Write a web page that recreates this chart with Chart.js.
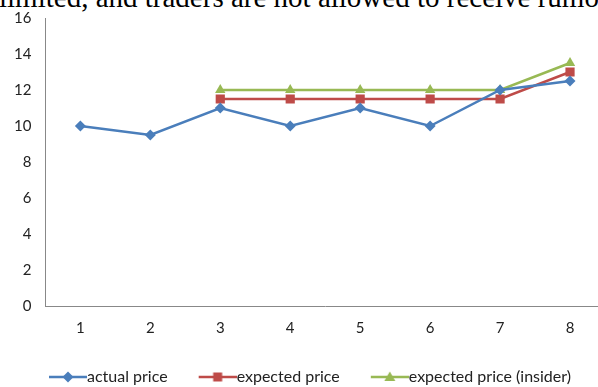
<!DOCTYPE html>
<html lang="en">
<head>
<meta charset="UTF-8">
<title>Price chart</title>
<script src="https://cdn.jsdelivr.net/npm/chart.js"></script>
<style>
  html, body { margin: 0; padding: 0; background: #fff; overflow: hidden; }
  body { width: 598px; height: 387px; position: relative; }
  .caption {
    position: absolute; left: -1px; top: -17px; white-space: nowrap; line-height: 29px;
    font-family: "Liberation Serif", "Times New Roman", serif; font-size: 29px; color: #000;
  }
  .wrap { position: absolute; left: 0; top: 0; width: 624px; height: 387px; }
</style>
</head>
<body>
<div class="caption">limited, and traders are not allowed to receive rumors</div>
<div class="wrap"><canvas id="myChart"></canvas></div>
<script>
const periods = ["1", "2", "3", "4", "5", "6", "7", "8"];
const actualPrice = [10, 9.5, 11, 10, 11, 10, 12, 12.5];
const expectedPrice = [null, null, 11.5, 11.5, 11.5, 11.5, 11.5, 13];
const insiderPrice = [null, null, 12, 12, 12, 12, 12, 13.5];
const yMin = 0, yMax = 16, yStep = 2;

const BLUE = "#4a7ebb", RED = "#be4b48", GREEN = "#98b954";
const FONT = "Lato, Carlito, Calibri, sans-serif";

// line-with-marker swatch for the legend; the blank left part spaces the items
function swatch(color, shape) {
    const c = document.createElement("canvas");
    c.width = 61; c.height = 14;
    const g = c.getContext("2d");
    const x0 = 23, cx = 42;
    g.strokeStyle = color; g.lineWidth = 2.5;
    g.beginPath(); g.moveTo(x0, 7); g.lineTo(61, 7); g.stroke();
    g.fillStyle = color;
    g.beginPath();
    if (shape === "diamond") {
        g.moveTo(cx, 1.5); g.lineTo(cx + 5.5, 7); g.lineTo(cx, 12.5); g.lineTo(cx - 5.5, 7);
    } else if (shape === "square") {
        g.rect(cx - 4.5, 2.5, 9, 9);
    } else {
        g.moveTo(cx, 1.5); g.lineTo(cx + 5.5, 11); g.lineTo(cx - 5.5, 11);
    }
    g.closePath(); g.fill();
    return c;
}

const icons = [swatch(BLUE, "diamond"), swatch(RED, "square"), swatch(GREEN, "triangle")];

function series(label, data, color, style, radius) {
    return {
        label: label,
        data: data,
        borderColor: color,
        backgroundColor: color,
        borderWidth: 2.5,
        pointStyle: style,
        pointRadius: radius,
        pointHoverRadius: radius,
        pointBorderWidth: 0,
        tension: 0,
        spanGaps: false
    };
}

const ctx = document.getElementById("myChart").getContext("2d");
const myChart = new Chart(ctx, {
    type: "line",
    data: {
        labels: periods,
        datasets: [
            series("actual price", actualPrice, BLUE, "rectRot", 5.5),
            series("expected price", expectedPrice, RED, "rect", 6.5),
            series("expected price (insider)", insiderPrice, GREEN, "triangle", 6)
        ]
    },
    options: {
        responsive: true,
        maintainAspectRatio: false,
        animation: false,
        layout: { padding: { left: 0, right: 19, top: 18, bottom: -8 } },
        plugins: {
            tooltip: { enabled: false },
            legend: {
                position: "bottom",
                labels: {
                    usePointStyle: true,
                    pointStyleWidth: 45,
                    padding: 16,
                    color: "#222",
                    font: { family: FONT, size: 16 },
                    generateLabels: chart => chart.data.datasets.map((ds, i) => ({
                        text: ds.label,
                        pointStyle: icons[i],
                        fillStyle: ds.borderColor,
                        strokeStyle: ds.borderColor,
                        lineWidth: 0,
                        datasetIndex: i,
                        fontColor: "#222"
                    }))
                }
            }
        },
        scales: {
            x: {
                offset: true,
                grid: { display: false, drawTicks: false },
                border: { display: true, color: "#888", width: 1 },
                ticks: { color: "#222", font: { family: FONT, size: 15 }, padding: 13 },
                afterFit: scale => { scale.height = 47; }
            },
            y: {
                min: yMin,
                max: yMax,
                grid: { display: false, drawTicks: false },
                border: { display: true, color: "#888", width: 1 },
                ticks: { stepSize: yStep, color: "#222", font: { family: FONT, size: 15 }, padding: 14 },
                // the top label only needs half its height above the plot
                afterFit: scale => { scale.paddingTop = 9; }
            }
        }
    }
});
</script>
</body>
</html>
